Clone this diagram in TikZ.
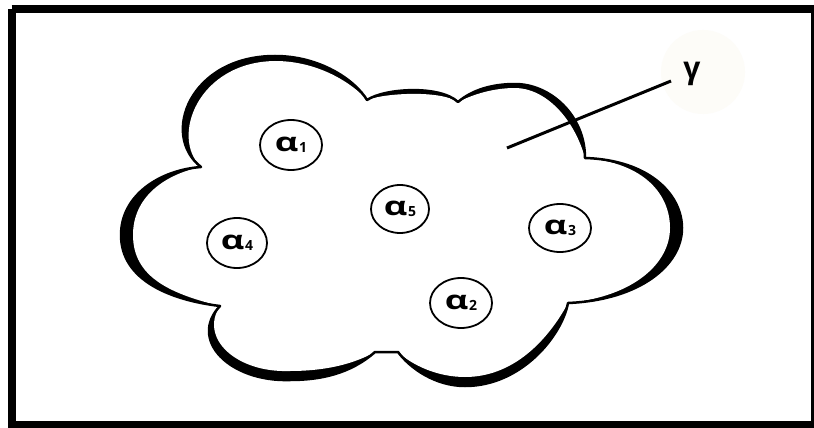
\documentclass[tikz,border=0pt]{standalone}
\usepackage{fontspec}
\setmainfont{Open Sans}
\usetikzlibrary{shapes.geometric}
\newcommand\alab[1]{\scalebox{1.4}[1]{\bfseries α}\kern0.6pt\raisebox{-1pt}{\fontsize{14}{14}\selectfont\bfseries #1}}
\definecolor{glow}{RGB}{253,252,248}
\tikzset{
  alphanode/.style={ellipse, draw=black, line width=1.8pt, fill=white, inner sep=0pt,
    minimum width=62pt, minimum height=50pt, font=\fontsize{26}{26}\selectfont},
  cloudline/.style={line width=2.5pt, line join=round},
  frame/.style={draw=black, line width=8pt},
  leader/.style={line width=3pt}
}
\begin{document}
\begin{tikzpicture}[x=1pt,y=-1pt]
\useasboundingbox (0,0) rectangle (814,428);
\fill[white] (0,0) rectangle (814,428);
% faint glow behind gamma
\fill[glow] (703,72) circle (42);
% outer cloud (black body)
\def\outercloud{(201,167)
 .. controls (160,135) and (190,56) .. (275,56)
 .. controls (320,56) and (355,80) .. (367,100)
 .. controls (385,88) and (440,85) .. (458,102)
 .. controls (472,90) and (492,84) .. (515,84)
 .. controls (550,84) and (585,115) .. (585,158)
 .. controls (650,160) and (682,195) .. (682,228)
 .. controls (682,265) and (640,300) .. (568,303)
 .. controls (562,335) and (522,386) .. (465,386)
 .. controls (435,386) and (410,368) .. (398,352)
 -- (375,352)
 .. controls (350,374) and (320,380) .. (290,380)
 .. controls (230,382) and (188,340) .. (220,306)
 .. controls (170,300) and (121,280) .. (121,235)
 .. controls (121,195) and (160,170) .. (201,167) -- cycle}
\def\innercloud{(201,167)
 .. controls (170,137) and (198,62) .. (275,61)
 .. controls (318,61) and (352,83) .. (367,100)
 .. controls (385,93) and (440,90) .. (458,102)
 .. controls (474,94) and (494,88) .. (515,88)
 .. controls (545,88) and (574,118) .. (585,158)
 .. controls (645,163) and (670,195) .. (670,228)
 .. controls (670,262) and (636,296) .. (568,303)
 .. controls (552,333) and (518,377) .. (465,377)
 .. controls (437,377) and (412,365) .. (398,352)
 -- (375,352)
 .. controls (350,366) and (320,371) .. (290,371)
 .. controls (236,373) and (199,338) .. (220,306)
 .. controls (172,294) and (133,278) .. (133,235)
 .. controls (133,198) and (163,175) .. (201,167) -- cycle}
\fill[black] \outercloud;
\fill[white] \innercloud;
\draw[cloudline] \outercloud;
% leader line and gamma
\coordinate (p) at (507,148);
\coordinate (q) at (671,81);
\draw[leader] (p) -- (q);
\node[font=\fontsize{30}{30}\selectfont\bfseries, inner sep=0pt] (gamma) at (692,74) {γ};
% alpha nodes
\node[alphanode] (a1) at (291,145) {\alab{1}};
\node[alphanode, minimum width=58pt, minimum height=48pt] (a5) at (400,209) {\alab{5}};
\node[alphanode, minimum width=60pt] (a4) at (237,243) {\alab{4}};
\node[alphanode, minimum height=48pt] (a3) at (560,228) {\alab{3}};
\node[alphanode] (a2) at (461,303) {\alab{2}};
% frame
\draw[frame] (11.5,9) -- (815,9) (11.5,9) -- (11.5,424.5) -- (815,424.5);
\draw[black, line width=3pt] (812.5,5) -- (812.5,428);
\end{tikzpicture}
\end{document}
